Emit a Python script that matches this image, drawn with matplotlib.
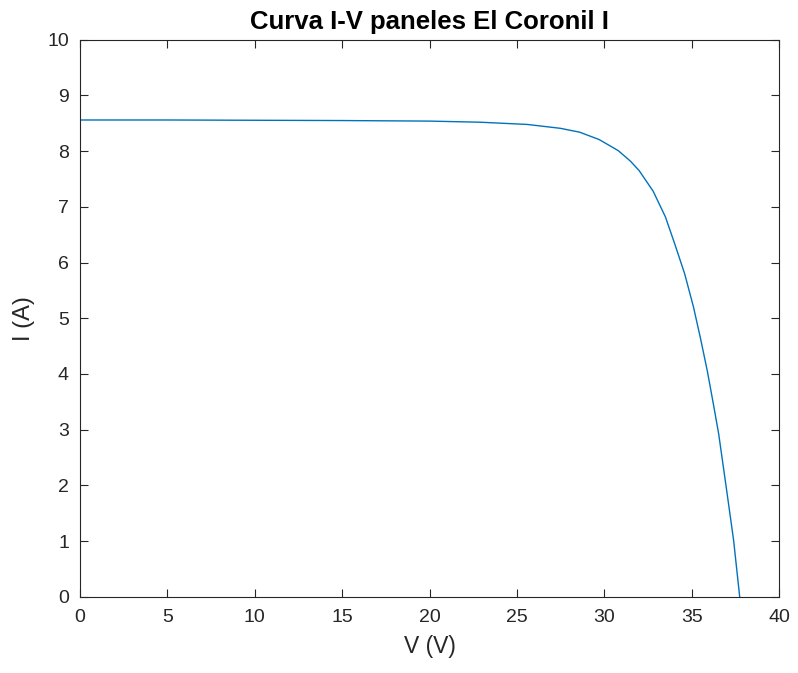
import matplotlib
matplotlib.use("Agg")
import matplotlib.pyplot as plt

V = [0, 5, 10, 15, 20, 22.9, 25.6, 27.5, 28.6, 29.7, 30.8, 31.5, 32.0, 32.8,
     33.5, 34.05, 34.6, 35.1, 35.5, 35.9, 36.25, 36.55, 37.0, 37.4, 37.75]
I = [8.56, 8.56, 8.555, 8.55, 8.54, 8.52, 8.48, 8.41, 8.34, 8.21, 8.01, 7.82,
     7.65, 7.28, 6.82, 6.32, 5.80, 5.21, 4.65, 4.05, 3.45, 2.92, 1.92, 1.02, 0.0]

xticks = [0, 5, 10, 15, 20, 25, 30, 35, 40]
yticks = [0, 1, 2, 3, 4, 5, 6, 7, 8, 9, 10]

plt.rcParams['font.family'] = ['Liberation Sans', 'DejaVu Sans']
axc = '#262626'

fig = plt.figure(figsize=(7.98, 6.73), dpi=100)
ax = fig.add_axes([0.1003, 0.1132, 0.8759, 0.8277])
ax.plot(V, I, color='#0072BD', lw=1.0)
ax.set_xlim(0, 40)
ax.set_ylim(0, 10)
ax.set_xticks(xticks)
ax.set_yticks(yticks)
ax.tick_params(direction='in', top=True, right=True, length=6, width=0.8,
               colors=axc, labelsize=14)
ax.tick_params(axis='y', pad=8)
ax.tick_params(axis='x', pad=9)
for s in ax.spines.values():
    s.set_color(axc)
    s.set_linewidth(0.8)
ax.set_title('Curva I-V paneles El Coronil I', fontsize=18.5, fontweight='bold',
             color='black', pad=8)
ax.set_xlabel('V (V)', fontsize=16.5, color=axc, labelpad=6)
ax.set_ylabel('I (A)', fontsize=17, color=axc, labelpad=9)
fig.savefig('out.png', dpi=100)
